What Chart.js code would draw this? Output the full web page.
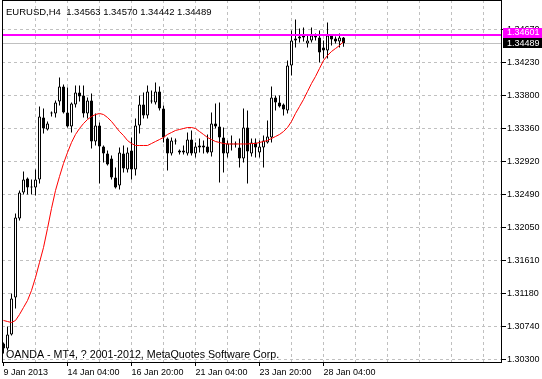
<!DOCTYPE html>
<html><head><meta charset="utf-8">
<script src="https://cdn.jsdelivr.net/npm/chart.js@4/dist/chart.umd.min.js"></script>
<style>html,body{margin:0;padding:0;background:#fff;overflow:hidden}canvas{display:block}</style>
</head><body>
<canvas id="c" width="542" height="379"></canvas>
<script>
const symbolTitle = 'EURUSD,H4';
const footerText = 'OANDA - MT4, ? 2001-2012, MetaQuotes Software Corp.';
const opens = [1.30512,1.30446,1.30631,1.31121,1.32167,1.32512,1.32697,1.32591,1.32578,1.32684,
1.33505,1.33346,1.33558,1.33558,1.33717,1.33915,1.33571,1.33386,1.33677,1.33836,
1.33796,1.33558,1.33730,1.33187,1.33399,1.33121,1.33028,1.32962,1.32710,1.32604,
1.33028,1.32816,1.33068,1.32816,1.33399,1.33677,1.33531,1.33717,1.33703,1.33849,
1.33624,1.33227,1.33028,1.33200,1.33068,1.33068,1.33028,1.33213,1.33028,1.33134,
1.33134,1.33121,1.33041,1.33425,1.33386,1.33240,1.33028,1.33160,1.33160,1.33107,
1.32962,1.33372,1.33028,1.33174,1.33041,1.33107,1.33174,1.33240,1.33770,1.33703,
1.33677,1.33597,1.34193,1.34524,1.34551,1.34591,1.34485,1.34524,1.34591,1.34564,
1.34432,1.34392,1.34591,1.34551,1.34511,1.34563];
const highs = [1.30525,1.30737,1.31174,1.32234,1.32538,1.32790,1.32710,1.32684,1.32816,1.33650,
1.33624,1.33452,1.33584,1.33730,1.34034,1.33942,1.33902,1.33703,1.33928,1.33928,
1.33928,1.33770,1.33823,1.33558,1.33439,1.33134,1.33068,1.33002,1.32843,1.33107,
1.33134,1.33107,1.33240,1.33491,1.33796,1.33836,1.33928,1.33862,1.33968,1.33915,
1.33664,1.33240,1.33240,1.33227,1.33081,1.33134,1.33306,1.33333,1.33174,1.33227,
1.33200,1.33280,1.33571,1.33690,1.33703,1.33372,1.33200,1.33266,1.33187,1.33227,
1.33624,1.33597,1.33227,1.33227,1.33200,1.33266,1.33465,1.33915,1.33796,1.33796,
1.33690,1.34259,1.34657,1.34802,1.34683,1.34697,1.34591,1.34697,1.34617,1.34657,
1.34524,1.34763,1.34604,1.34577,1.34617,1.34570];
const lows = [1.30380,1.30419,1.30618,1.30976,1.32141,1.32485,1.32485,1.32485,1.32472,1.32631,
1.33293,1.33333,1.33518,1.33505,1.33664,1.33558,1.33372,1.33306,1.33637,1.33717,
1.33505,1.33491,1.33094,1.33134,1.32631,1.32909,1.32869,1.32684,1.32565,1.32551,
1.32776,1.32776,1.32684,1.32737,1.33293,1.33491,1.33491,1.33690,1.33677,1.33597,
1.33174,1.32803,1.33002,1.33147,1.33015,1.33015,1.33002,1.33002,1.32975,1.33041,
1.33028,1.33028,1.32988,1.33359,1.32644,1.32776,1.32975,1.33068,1.33107,1.32843,
1.32909,1.32631,1.32988,1.32975,1.32975,1.32843,1.33160,1.33174,1.33597,1.33637,
1.33531,1.33558,1.34061,1.34432,1.34498,1.34511,1.34432,1.34498,1.34524,1.34233,
1.34286,1.34286,1.34458,1.34485,1.34432,1.34442];
const closes = [1.30446,1.30631,1.31108,1.32181,1.32512,1.32684,1.32578,1.32578,1.32684,1.33518,
1.33359,1.33425,1.33562,1.33703,1.33915,1.33571,1.33386,1.33690,1.33836,1.33783,
1.33558,1.33730,1.33187,1.33399,1.33121,1.33028,1.32882,1.32710,1.32578,1.33041,
1.32829,1.33041,1.32816,1.33399,1.33677,1.33531,1.33849,1.33720,1.33849,1.33624,
1.33240,1.33028,1.33200,1.33187,1.33041,1.33041,1.33213,1.33028,1.33121,1.33107,
1.33107,1.33041,1.33425,1.33386,1.33240,1.33028,1.33160,1.33147,1.33147,1.32962,
1.33372,1.33055,1.33174,1.33107,1.33121,1.33200,1.33253,1.33770,1.33703,1.33650,
1.33611,1.34193,1.34524,1.34551,1.34577,1.34564,1.34524,1.34591,1.34564,1.34365,
1.34392,1.34591,1.34538,1.34511,1.34564,1.34489];
const maValues = [1.30817,1.30803,1.30790,1.30817,1.30896,1.30989,1.31081,1.31214,1.31386,1.31585,
1.31783,1.32035,1.32300,1.32538,1.32723,1.32896,1.33041,1.33174,1.33280,1.33359,
1.33425,1.33478,1.33518,1.33544,1.33558,1.33544,1.33505,1.33452,1.33386,1.33319,
1.33266,1.33200,1.33160,1.33134,1.33134,1.33134,1.33134,1.33160,1.33187,1.33213,
1.33240,1.33280,1.33306,1.33333,1.33346,1.33359,1.33372,1.33372,1.33359,1.33319,
1.33280,1.33240,1.33213,1.33187,1.33174,1.33160,1.33154,1.33154,1.33154,1.33154,
1.33154,1.33154,1.33160,1.33160,1.33174,1.33187,1.33200,1.33227,1.33253,1.33280,
1.33319,1.33372,1.33452,1.33558,1.33650,1.33743,1.33849,1.33955,1.34048,1.34154,
1.34259,1.34326,1.34379,1.34418,1.34458,1.34511];
const lastBar = {open:1.34563, high:1.34570, low:1.34442, close:1.34489};
const askPrice = 1.34601;
const bidPrice = 1.34489;
const yTickLabels = ['1.30300','1.30740','1.31180','1.31610','1.32050','1.32490','1.32920','1.33360','1.33800','1.34230','1.34670'];
const xTickBars = [0,16,32,48,64,80];
const xTickLabels = ['9 Jan 2013','14 Jan 04:00','16 Jan 20:00','21 Jan 04:00','23 Jan 20:00','28 Jan 04:00'];

const FONT = 'Liberation Sans';
const overlay = {
  id: 'overlay',
  beforeDraw(chart) {
    const {ctx, width, height} = chart;
    ctx.save(); ctx.fillStyle = '#fff'; ctx.fillRect(0, 0, width, height); ctx.restore();
  },
  beforeDatasetsDraw(chart) {
    const {ctx, chartArea} = chart;
    const y = chart.scales.y;
    ctx.save();
    const pb = Math.floor(y.getPixelForValue(bidPrice)) + 0.5;
    ctx.strokeStyle = '#c0c0c0'; ctx.lineWidth = 1;
    ctx.beginPath(); ctx.moveTo(chartArea.left, pb); ctx.lineTo(chartArea.right, pb); ctx.stroke();
    ctx.restore();
  },
  afterDatasetsDraw(chart) {
    const {ctx, chartArea} = chart;
    const y = chart.scales.y;
    ctx.save();
    const pa = Math.round(y.getPixelForValue(askPrice));
    ctx.strokeStyle = '#ff00ff'; ctx.lineWidth = 2;
    ctx.beginPath(); ctx.moveTo(chartArea.left, pa); ctx.lineTo(chartArea.right, pa); ctx.stroke();
    ctx.restore();
  },
  afterDraw(chart) {
    const {ctx, chartArea} = chart;
    const y = chart.scales.y;
    ctx.save();
    ctx.strokeStyle = '#000'; ctx.lineWidth = 1;
    ctx.beginPath();
    ctx.moveTo(2.5, 0); ctx.lineTo(2.5, chartArea.bottom + 1);
    ctx.moveTo(chartArea.right - 0.5, 0); ctx.lineTo(chartArea.right - 0.5, chartArea.bottom + 1);
    ctx.moveTo(2, chartArea.bottom + 0.5); ctx.lineTo(chartArea.right, chartArea.bottom + 0.5);
    ctx.moveTo(2, 0.5); ctx.lineTo(chartArea.right, 0.5);
    ctx.stroke();
    ctx.fillStyle = '#000';
    ctx.font = '9.5px "' + FONT + '"';
    ctx.textBaseline = 'alphabetic'; ctx.textAlign = 'left';
    const f = v => v.toFixed(5);
    ctx.fillText(symbolTitle + '  ' + f(lastBar.open) + ' ' + f(lastBar.high) + ' ' + f(lastBar.low) + ' ' + f(lastBar.close), 6, 15);
    ctx.font = '10.7px "' + FONT + '"';
    ctx.fillText(footerText, 6, 358);
    ctx.font = '9px "' + FONT + '"';
    ctx.textBaseline = 'middle';
    const pa = Math.round(y.getPixelForValue(askPrice));
    const pb = Math.floor(y.getPixelForValue(bidPrice));
    ctx.fillStyle = '#ff00ff';
    ctx.fillRect(chartArea.right + 1, pa - 7, 40, 10);
    ctx.fillStyle = '#fff';
    ctx.fillText(askPrice.toFixed(5), chartArea.right + 5, pa - 2);
    ctx.fillStyle = '#000';
    ctx.fillRect(chartArea.right + 1, pb - 5, 40, 10);
    ctx.fillStyle = '#fff';
    ctx.fillText(bidPrice.toFixed(5), chartArea.right + 5, pb + 0.5);
    ctx.restore();
  }
};

const yLow = Number(yTickLabels[0]);
const yHigh = Number(yTickLabels[yTickLabels.length - 1]);

new Chart(document.getElementById('c'), {
  type: 'bar',
  data: {
    datasets: [
      { type: 'line', label: 'MA', data: maValues.map((v, i) => ({x: i, y: v})),
        borderColor: '#ff0000', borderWidth: 1, pointRadius: 0, tension: 0, order: 0 },
      { label: 'body', data: opens.map((o, i) => ({x: i, y: [Math.min(o, closes[i]), Math.max(o, closes[i])]})),
        backgroundColor: c => (c.dataIndex !== undefined && closes[c.dataIndex] >= opens[c.dataIndex]) ? '#ffffff' : '#000000',
        borderColor: '#000', borderWidth: 1, borderSkipped: false, barThickness: 3, grouped: false,
        minBarLength: 1, inflateAmount: 0, order: 1 },
      { label: 'wick', data: lows.map((l, i) => ({x: i, y: [l, highs[i]]})),
        backgroundColor: '#000', borderWidth: 0, barThickness: 1, grouped: false,
        minBarLength: 1, inflateAmount: 0, order: 2 }
    ]
  },
  options: {
    responsive: false, devicePixelRatio: 1, animation: false,
    layout: {padding: {left: 2, right: 0, top: 0, bottom: 0}},
    plugins: {legend: {display: false}, tooltip: {enabled: false}},
    scales: {
      x: {
        type: 'linear', min: -0.375, max: 124.625, offset: false,
        grid: {offset: false, color: c => (c.tick && c.tick.value === 0) ? 'rgba(0,0,0,0)' : '#c0c0c0',
          lineWidth: 1, drawTicks: true, tickLength: 4,
          tickColor: c => (c.tick && xTickBars.includes(c.tick.value)) ? '#000' : 'rgba(0,0,0,0)',
          tickBorderDash: [], tickWidth: 1},
        border: {display: false, dash: [3, 3]},
        ticks: {autoSkip: false, maxRotation: 0, minRotation: 0, align: 'start', padding: 1, color: '#000',
          font: {family: FONT, size: 9},
          callback: v => { const k = xTickBars.indexOf(v); return k >= 0 ? xTickLabels[k] : ''; }},
        afterBuildTicks: s => { const t = []; for (let v = 0; v <= s.max; v += 8) t.push({value: v}); s.ticks = t; },
        afterFit: s => { s.height = 17; s.paddingLeft = 0; s.paddingRight = 0; }
      },
      y: {
        type: 'linear', position: 'right',
        min: yLow - 2.5 * (yHigh - yLow) / 330, max: yHigh + 29.5 * (yHigh - yLow) / 330,
        grid: {color: '#c0c0c0', lineWidth: 1, drawTicks: true, tickLength: 4,
          tickColor: '#000', tickBorderDash: [], tickWidth: 1},
        border: {display: false, dash: [3, 3]},
        ticks: {padding: 1, color: '#000', font: {family: FONT, size: 9},
          callback: (v, i) => yTickLabels[i]},
        afterBuildTicks: s => { s.ticks = yTickLabels.map((l, k) => ({value: yLow + k * (yHigh - yLow) / (yTickLabels.length - 1)})); },
        afterFit: s => { s.width = 40; s.paddingTop = 0; s.paddingBottom = 0; }
      }
    }
  },
  plugins: [overlay]
});
</script>
</body></html>
